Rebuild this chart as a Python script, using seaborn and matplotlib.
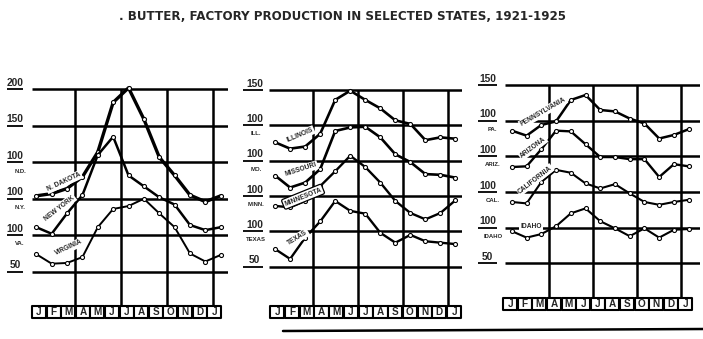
import numpy as np
import pandas as pd
import matplotlib
matplotlib.use("Agg")
import matplotlib.pyplot as plt
from matplotlib.patches import Rectangle
from matplotlib.lines import Line2D
from matplotlib.transforms import blended_transform_factory
import seaborn as sns

title = ". BUTTER, FACTORY PRODUCTION IN SELECTED STATES, 1921-1925"
months = ["J", "F", "M", "A", "M", "J", "J", "A", "S", "O", "N", "D", "J"]

# Monthly index values (Jan through the following Jan)
n_dakota = [54, 57, 64, 80, 114, 182, 202, 159, 107, 82, 55, 46, 54]
new_york = [61, 52, 80, 105, 160, 185, 132, 117, 102, 92, 64, 57, 61]
virginia = [74, 61, 62, 70, 111, 136, 140, 150, 130, 111, 75, 64, 73]

illinois = [76, 67, 70, 88, 136, 149, 136, 124, 107, 102, 79, 83, 81]
missouri = [79, 62, 69, 88, 142, 147, 148, 133, 109, 98, 81, 80, 76]
minnesota = [86, 84, 93, 114, 135, 157, 141, 119, 93, 76, 67, 76, 94]
texas = [75, 61, 91, 114, 143, 129, 125, 98, 84, 95, 86, 84, 82]

pennsylvania = [86, 79, 94, 99, 129, 136, 115, 113, 103, 96, 75, 80, 88]
arizona = [85, 86, 110, 136, 135, 117, 99, 99, 96, 96, 71, 89, 86]
california = [86, 84, 114, 131, 127, 112, 105, 111, 98, 86, 82, 86, 89]
idaho = [95, 86, 91, 102, 120, 127, 109, 99, 88, 99, 86, 97, 98]

panel1_names = ["N. DAKOTA", "NEW YORK", "VIRGINIA"]
panel1_abbr = ["N.D.", "N.Y.", "VA."]
panel1_ticks = ["200", "150", "100", "100", "100", "50"]

panel2_names = ["ILLINOIS", "MISSOURI", "MINNESOTA", "TEXAS"]
panel2_abbr = ["ILL.", "MO.", "MINN.", "TEXAS"]
panel2_ticks = ["150", "100", "100", "100", "100", "50"]

panel3_names = ["PENNSYLVANIA", "ARIZONA", "CALIFORNIA", "IDAHO"]
panel3_abbr = ["PA.", "ARIZ.", "CAL.", "IDAHO"]
panel3_ticks = ["150", "100", "100", "100", "100", "50"]

sns.set_style("white")
plt.rcParams["font.family"] = ["Liberation Sans", "DejaVu Sans"]
plt.rcParams["font.weight"] = "bold"

fig = plt.figure(figsize=(7.03, 3.39), dpi=100)
fig.patch.set_facecolor("white")

panels = [
    dict(names=panel1_names, series=[n_dakota, new_york, virginia],
         abbr=panel1_abbr, ticks=panel1_ticks, top=200,
         widths=[2.4, 1.8, 1.4],
         rect=[0.0462, 0.0973, 0.2787, 0.6608], xlim=(-0.25, 12.5), ylim=(-97, 210),
         tick_x=-1.39, ul=(-1.9, -0.87), sub_x=-1.05,
         box0=0.18, box_step=0.95,
         tags=[(1.80, 73, 25), (1.50, 37, 38), (2.13, -17, 25)]),
    dict(names=panel2_names, series=[illinois, missouri, minnesota, texas],
         abbr=panel2_abbr, ticks=panel2_ticks, top=150,
         widths=[1.9, 1.9, 1.7, 1.7],
         rect=[0.3821, 0.0973, 0.2750, 0.6581], xlim=(-0.43, 12.43), ylim=(-155.6, 160),
         tick_x=-1.37, ul=(-2.14, -0.80), sub_x=-1.25,
         box0=0.15, box_step=0.98,
         tags=[(1.66, 86, 23), (1.72, 37, 18), (1.86, -1, 22), (1.52, -59, 32)]),
    dict(names=panel3_names, series=[pennsylvania, arizona, california, idaho],
         abbr=panel3_abbr, ticks=panel3_ticks, top=150,
         widths=[1.8, 1.7, 1.5, 1.5],
         rect=[0.7183, 0.1209, 0.2770, 0.6493], xlim=(-0.47, 12.75), ylim=(-148.7, 160),
         tick_x=-1.66, ul=(-2.3, -1.0), sub_x=-1.3,
         box0=-0.11, box_step=0.99,
         tags=[(2.11, 112, 30), (1.43, 62, 37), (1.57, 17, 38), (1.30, -48, 0)]),
]

GRID_LW = 1.8

for p in panels:
    ax = fig.add_axes(p["rect"])
    # long-form table: each state shifted down 50 units below the one above
    frames = []
    for k, (name, vals) in enumerate(zip(p["names"], p["series"])):
        frames.append(pd.DataFrame({
            "month": np.arange(len(vals)),
            "value": vals,
            "state": name,
            "plotted": np.asarray(vals, dtype=float) - 50 * k,
        }))
    df = pd.concat(frames, ignore_index=True)

    sns.lineplot(data=df, x="month", y="plotted", hue="state", size="state",
                 palette=["black"] * len(p["names"]),
                 sizes=dict(zip(p["names"], p["widths"])),
                 hue_order=p["names"], size_order=p["names"],
                 estimator=None, sort=False, legend=False,
                 marker="o", markersize=2.9, markerfacecolor="white",
                 markeredgecolor="black", markeredgewidth=0.8,
                 zorder=4, ax=ax)

    ax.set_xlim(*p["xlim"])
    ax.set_ylim(*p["ylim"])
    for s in ax.spines.values():
        s.set_visible(False)
    ax.set_xticks([])
    ax.set_yticks([])
    ax.set_xlabel("")
    ax.set_ylabel("")

    top = p["top"]
    grid_levels = [top - 50 * j for j in range(6)]
    for lvl in grid_levels:
        ax.axhline(lvl, color="black", lw=GRID_LW, zorder=1, solid_capstyle="butt")
    ax.vlines([2.5, 5.5, 8.5, 11.5], p["ylim"][0], top, color="black",
              lw=GRID_LW, zorder=1)

    # value labels with underline on the left
    for lvl, lab in zip(grid_levels, p["ticks"]):
        ax.text(p["tick_x"], lvl + 2, lab, ha="center", va="bottom",
                fontsize=7.4, fontweight="bold", clip_on=False)
        ax.plot(list(p["ul"]), [lvl, lvl], color="black", lw=1.3,
                clip_on=False, solid_capstyle="butt")

    # state abbreviations beneath each 100 baseline
    for k, ab in enumerate(p["abbr"]):
        base = 100 - 50 * k
        ax.text(p["sub_x"], base - 12, ab, ha="center", va="center",
                fontsize=4.3, fontweight="bold", clip_on=False)

    # state names written along the curves
    for k, (name, (tx, ty, rot)) in enumerate(zip(p["names"], p["tags"])):
        if name == "MINNESOTA":
            bb = dict(boxstyle="round,pad=0.25", fc="white", ec="black", lw=0.9)
        else:
            bb = dict(boxstyle="square,pad=0.15", fc="white", ec="none")
        ax.text(tx, ty, name, rotation=rot, rotation_mode="anchor",
                ha="center", va="center", fontsize=4.8, fontweight="bold",
                bbox=bb, zorder=5)

    # month boxes below the grid
    bt = blended_transform_factory(ax.transData, ax.transAxes)
    ax_h_px = p["rect"][3] * 339
    h = 11.5 / ax_h_px
    w = p["box_step"] * 0.96
    for i, m in enumerate(months):
        c = p["box0"] + p["box_step"] * i
        ax.add_patch(Rectangle((c - w / 2, -h), w, h, transform=bt,
                               fc="white", ec="black", lw=1.5, clip_on=False,
                               joinstyle="round", zorder=3))
        ax.text(c, -h / 2, m, transform=bt, ha="center", va="center",
                fontsize=7.2, fontweight="bold", clip_on=False, zorder=4)

fig.text(0.487, 0.951, title, ha="center", va="center",
         fontsize=8.6, fontweight="bold", family=["DejaVu Sans"])

fig.add_artist(Line2D([283 / 703, 1.0], [1 - 331 / 339, 1 - 329 / 339],
                      color="black", lw=1.8, transform=fig.transFigure))

fig.savefig("out.png", dpi=100, facecolor="white")
